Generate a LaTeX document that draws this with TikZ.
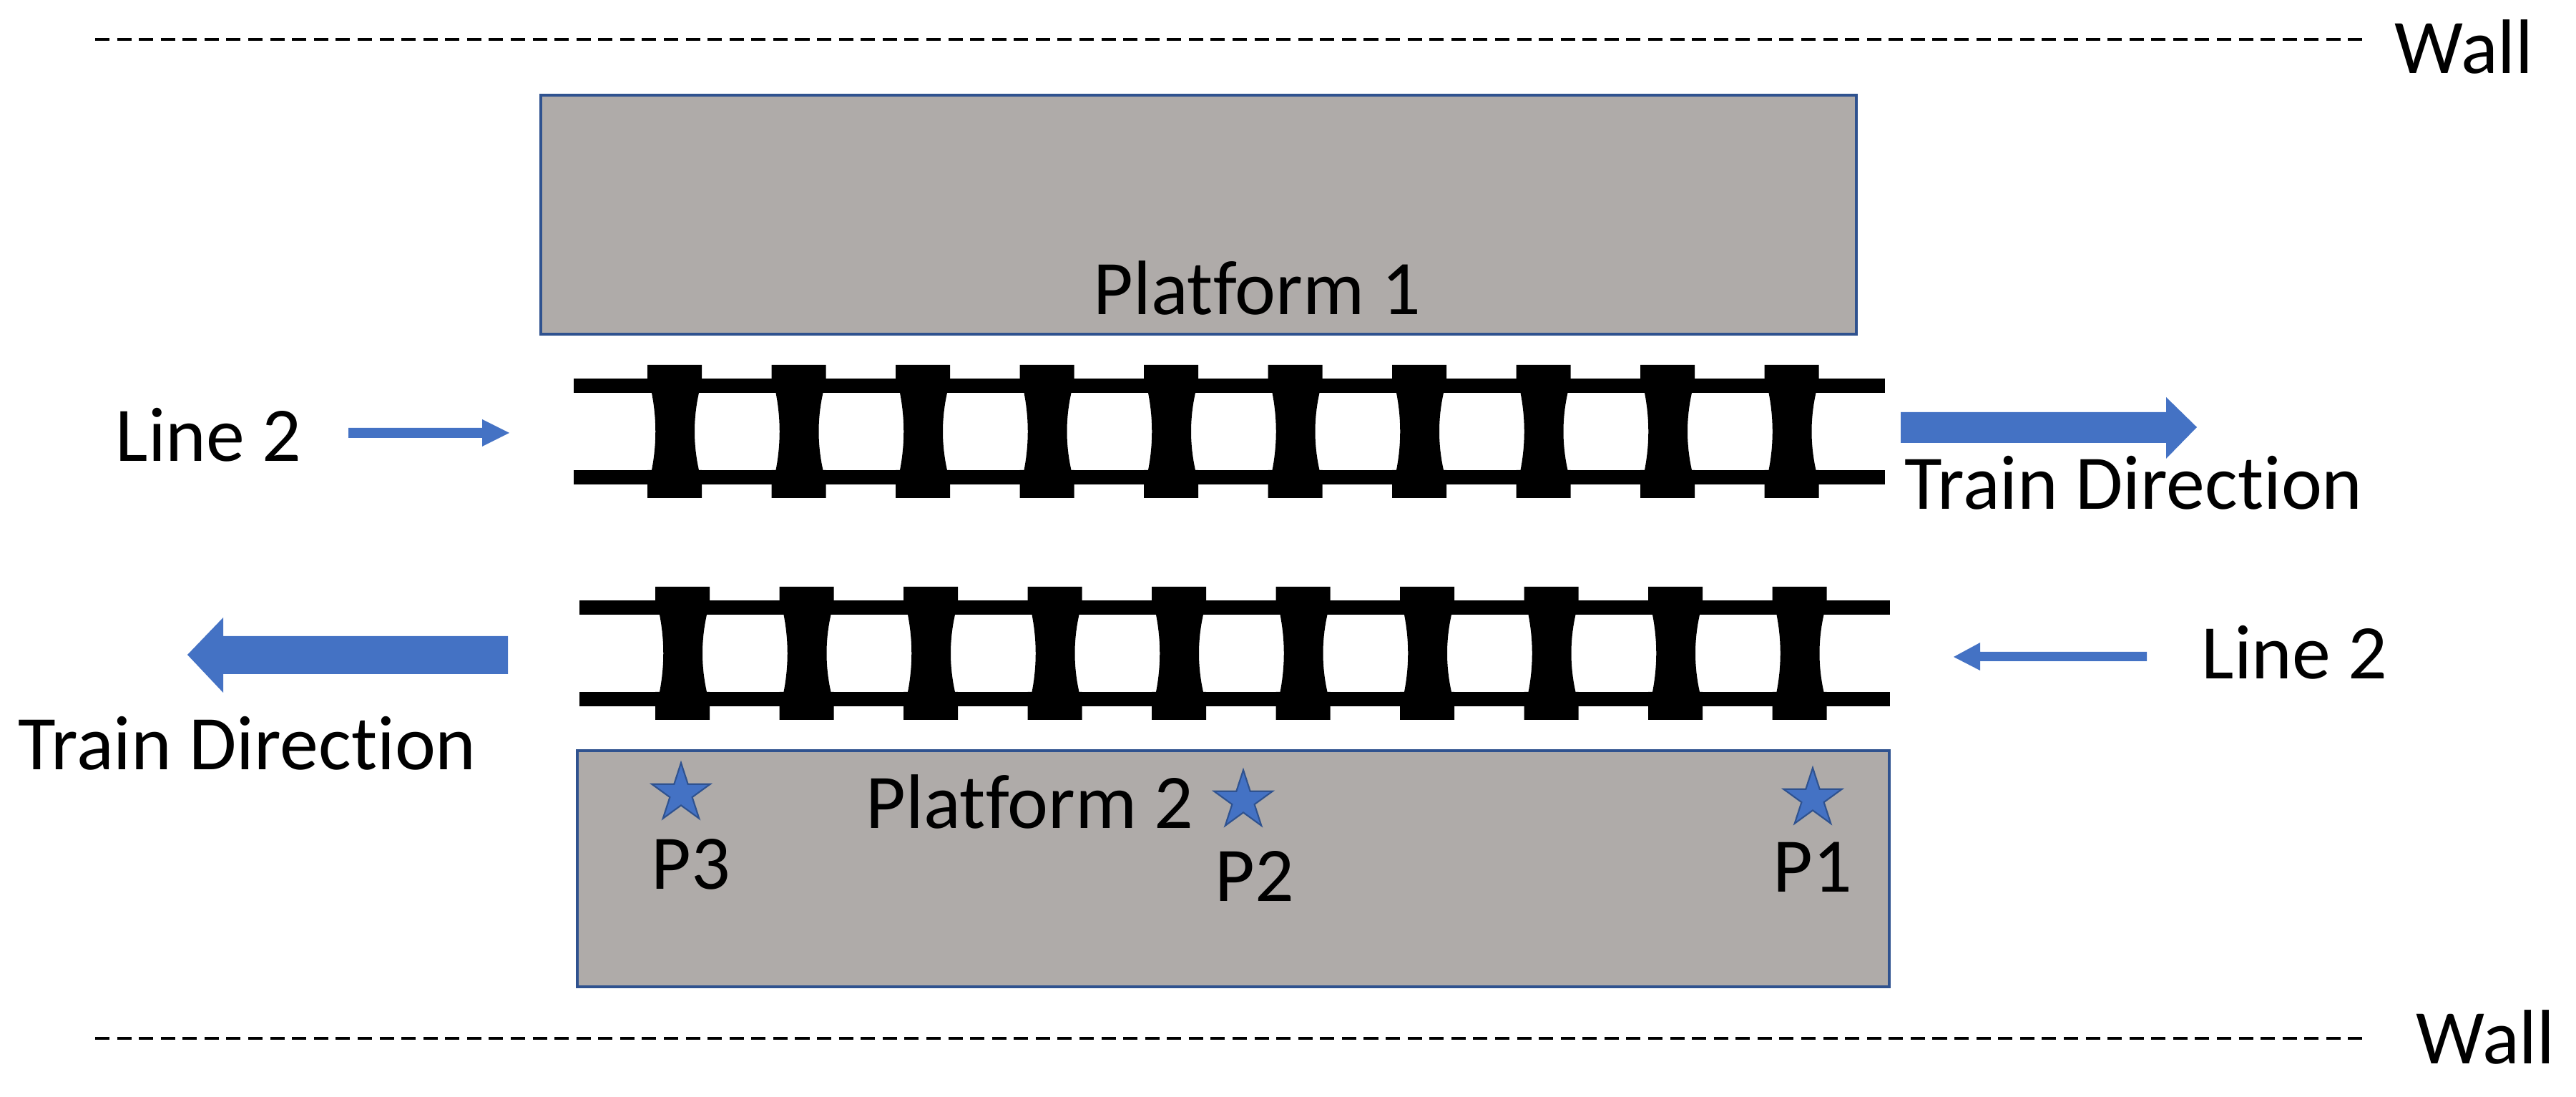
\documentclass[tikz,border=0pt]{standalone}
\usepackage{fontspec}
\setmainfont[Ligatures=NoCommon]{Carlito}
\usepackage{tikz}
\usetikzlibrary{shapes.geometric}
\definecolor{platgray}{HTML}{AFABA9}
\definecolor{edgeblue}{HTML}{2F528F}
\definecolor{dirblue}{HTML}{4472C4}
\tikzstyle{area}=[draw=edgeblue, fill=platgray, line width=1pt]
\tikzstyle{wall}=[draw=black, line width=1.4pt, dash pattern=on 5.7pt off 3pt]
\tikzstyle{lbl}=[anchor=base west, inner sep=0pt, font=\fontsize{30.7}{36}\selectfont]
\tikzstyle{rail}=[draw=black, line width=5.7pt]
\tikzstyle{tie}=[fill=black]
\tikzstyle{dirarrow}=[fill=dirblue]
\tikzstyle{spot}=[star, star points=5, star point ratio=2.618, minimum size=0.86cm, inner sep=0pt, draw=edgeblue, fill=dirblue, line width=0.6pt]

\begin{document}
\begin{tikzpicture}
	\useasboundingbox (0.0cm,0.0cm) rectangle (36.01cm,15.33cm);
	\path[wall] (1.33cm,14.78cm) -- (33.08cm,14.78cm);
	\path[wall] (1.33cm,0.82cm) -- (33.03cm,0.82cm);
	\path[area] (7.56cm,10.66cm) rectangle (25.95cm,14.00cm);
	\path[area] (8.07cm,1.54cm) rectangle (26.41cm,4.84cm);
	\foreach \tx/\ty/\rx/\rw in {9.05/10.23/8.02/18.33, 9.16/7.13/8.10/18.32} {
		\begin{scope}[shift={(\tx cm,\ty cm)}]
			\path[rail] (\rx cm-\tx cm,-0.29cm) -- ++(\rw cm,0cm);
			\path[rail] (\rx cm-\tx cm,-1.57cm) -- ++(\rw cm,0cm);
			\foreach \n in {0,...,9} {
				\fill[tie, xshift=\n*1.735cm] (0cm,0cm) -- (0.76cm,0cm) -- (0.76cm,-0.39cm) -- (0.72cm,-0.39cm)
					.. controls (0.64cm,-0.75cm) and (0.64cm,-1.11cm) .. (0.72cm,-1.47cm) -- (0.76cm,-1.47cm) -- (0.76cm,-1.86cm)
					-- (0cm,-1.86cm) -- (0cm,-1.47cm) -- (0.06cm,-1.47cm)
					.. controls (0.13cm,-1.11cm) and (0.13cm,-0.75cm) .. (0.06cm,-0.39cm) -- (0cm,-0.39cm) -- cycle;
			}
		\end{scope}
	}
	\fill[dirarrow] (26.57cm,9.57cm) -- (30.28cm,9.57cm) -- (30.28cm,9.78cm) -- (30.71cm,9.36cm) -- (30.28cm,8.92cm) -- (30.28cm,9.14cm) -- (26.57cm,9.14cm) -- cycle;
	\fill[dirarrow] (7.10cm,6.44cm) -- (3.12cm,6.44cm) -- (3.12cm,6.70cm) -- (2.62cm,6.18cm) -- (3.12cm,5.65cm) -- (3.12cm,5.91cm) -- (7.10cm,5.91cm) -- cycle;
	\fill[dirarrow] (4.87cm,9.35cm) -- (6.74cm,9.35cm) -- (6.74cm,9.47cm) -- (7.12cm,9.28cm) -- (6.74cm,9.09cm) -- (6.74cm,9.21cm) -- (4.87cm,9.21cm) -- cycle;
	\fill[dirarrow] (30.01cm,6.22cm) -- (27.68cm,6.22cm) -- (27.68cm,6.35cm) -- (27.31cm,6.15cm) -- (27.68cm,5.96cm) -- (27.68cm,6.09cm) -- (30.01cm,6.09cm) -- cycle;
	\node[spot] (star3) at (9.52cm,4.24cm) {};
	\node[spot] (star2) at (17.38cm,4.14cm) {};
	\node[spot] (star1) at (25.34cm,4.17cm) {};
	\node[lbl] (walltop) at (33.47cm,14.30cm) {Wall};
	\node[lbl] (wallbot) at (33.77cm,0.46cm) {Wall};
	\node[lbl] (plat1) at (15.28cm,10.93cm) {Platform 1};
	\node[lbl] (plat2) at (12.10cm,3.75cm) {Platform 2};
	\node[lbl] (p3) at (9.10cm,2.90cm) {P3};
	\node[lbl] (p2) at (16.98cm,2.73cm) {P2};
	\node[lbl] (p1) at (24.78cm,2.86cm) {P1};
	\node[lbl] (line2a) at (1.61cm,8.88cm) {Line 2};
	\node[lbl] (line2b) at (30.77cm,5.84cm) {Line 2};
	\node[lbl] (dira) at (26.62cm,8.21cm) {Train Direction};
	\node[lbl] (dirb) at (0.25cm,4.57cm) {Train Direction};
\end{tikzpicture}
\end{document}
